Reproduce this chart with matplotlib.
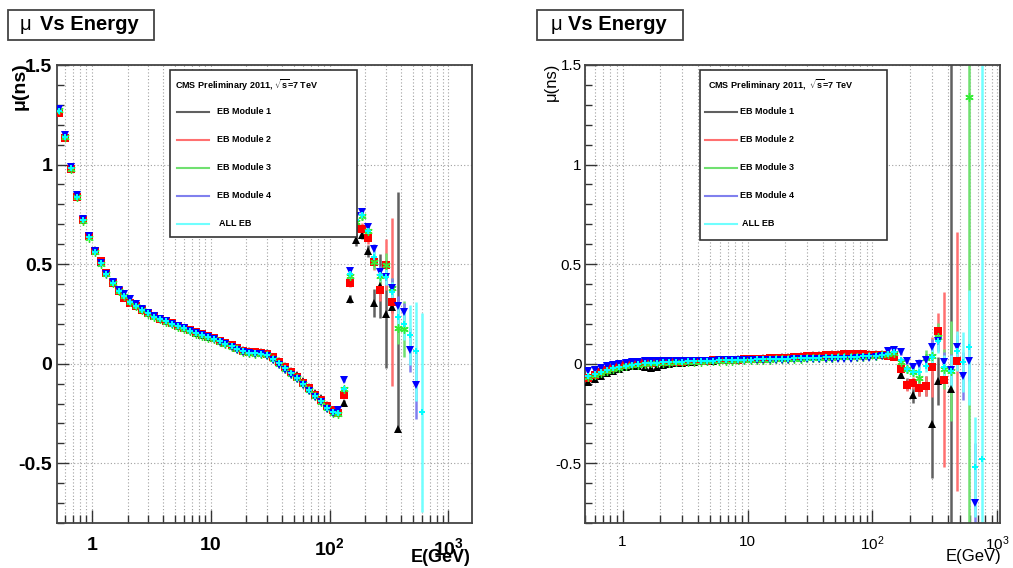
import numpy as np
import matplotlib.pyplot as plt
from matplotlib.patches import Rectangle
from matplotlib.lines import Line2D
from matplotlib.ticker import MultipleLocator, LogLocator, NullFormatter, FuncFormatter

plt.rcParams['font.family'] = ['Liberation Sans', 'DejaVu Sans']
plt.rcParams['mathtext.fontset'] = 'custom'
plt.rcParams['mathtext.rm'] = 'Liberation Sans'
plt.rcParams['mathtext.bf'] = 'Liberation Sans:bold'
plt.rcParams['mathtext.it'] = 'Liberation Sans:italic'
plt.rcParams['axes.unicode_minus'] = False

nan = float('nan')

# energy bin centres (GeV), 0.05 wide in log10
energy = [
    0.531, 0.596, 0.668, 0.750, 0.841, 0.944, 1.06, 1.19, 1.33, 1.50,
    1.68, 1.88, 2.11, 2.37, 2.66, 2.99, 3.35, 3.76, 4.22, 4.73,
    5.31, 5.96, 6.68, 7.50, 8.41, 9.44, 10.6, 11.9, 13.3, 15.0,
    16.8, 18.8, 21.1, 23.7, 26.6, 29.9, 33.5, 37.6, 42.2, 47.3,
    53.1, 59.6, 66.8, 75.0, 84.1, 94.4, 106, 119, 133, 150,
    168, 188, 211, 237, 266, 299, 335, 376, 422, 473,
    531, 596, 668, 750,
]

# bins from here on carry visible error bars
TAIL = 48

# ---- left plot: mean time (ns) per module ----
left_mod1 = [
    1.27, 1.14, 0.985, 0.84, 0.725, 0.64, 0.57, 0.51, 0.455, 0.405,
    0.365, 0.335, 0.31, 0.29, 0.27, 0.253, 0.238, 0.225, 0.213, 0.202,
    0.19, 0.18, 0.168, 0.156, 0.146, 0.136, 0.128, 0.115, 0.104, 0.093,
    0.079, 0.068, 0.062, 0.06, 0.058, 0.054, 0.036, 0.012, -0.012, -0.036,
    -0.058, -0.088, -0.115, -0.145, -0.172, -0.205, -0.232, -0.24,
    -0.195, 0.323, 0.62, 0.645, 0.565, 0.303, 0.39, 0.25, 0.287, -0.33,
]
left_mod1_err = [0.015, 0.02, 0.03, 0.02, 0.03, 0.07, 0.16, 0.27, 0.03, 1.19]
left_mod1_err_dn = [0.015, 0.02, 0.03, 0.02, 0.03, 0.07, 0.16, 0.27, 0.03, 0.0]

left_mod2 = [
    1.26, 1.135, 0.98, 0.835, 0.72, 0.64, 0.565, 0.515, 0.455, 0.405,
    0.365, 0.33, 0.305, 0.29, 0.27, 0.255, 0.24, 0.225, 0.213, 0.203,
    0.19, 0.18, 0.168, 0.157, 0.147, 0.137, 0.128, 0.115, 0.103, 0.092,
    0.078, 0.066, 0.06, 0.058, 0.055, 0.05, 0.032, 0.008, -0.018, -0.042,
    -0.065, -0.095, -0.122, -0.155, -0.18, -0.212, -0.235, -0.248,
    -0.155, 0.403, 0.68, 0.678, 0.633, 0.512, 0.37, 0.498, 0.31,
]
left_mod2_err = [0.012, 0.02, 0.025, 0.03, 0.03, 0.04, 0.055, 0.13, 0.42]

left_mod3 = [
    1.275, 1.14, 0.98, 0.835, 0.715, 0.63, 0.56, 0.5, 0.45, 0.405,
    0.365, 0.338, 0.31, 0.288, 0.268, 0.252, 0.236, 0.222, 0.21, 0.198,
    0.186, 0.175, 0.163, 0.151, 0.141, 0.131, 0.122, 0.109, 0.097, 0.086,
    0.072, 0.06, 0.054, 0.051, 0.049, 0.043, 0.024, 0.0, -0.026, -0.051,
    -0.074, -0.104, -0.132, -0.164, -0.19, -0.222, -0.247, -0.252,
    -0.125, 0.44, 0.71, 0.74, 0.667, 0.512, 0.44, 0.498, 0.378, 0.178, 0.173,
]
left_mod3_err = [0.01, 0.015, 0.02, 0.02, 0.025, 0.035, 0.04, 0.06, 0.05, 0.08, 0.14]

left_mod4 = [
    1.28, 1.15, 0.99, 0.845, 0.725, 0.64, 0.565, 0.505, 0.45, 0.41,
    0.37, 0.35, 0.325, 0.30, 0.275, 0.255, 0.24, 0.225, 0.212, 0.20,
    0.19, 0.178, 0.165, 0.152, 0.142, 0.133, 0.123, 0.11, 0.098, 0.085,
    0.07, 0.058, 0.052, 0.05, 0.048, 0.04, 0.02, -0.005, -0.03, -0.055,
    -0.078, -0.108, -0.135, -0.168, -0.192, -0.225, -0.248, -0.232,
    -0.08, 0.465, 0.74, 0.762, 0.687, 0.578, 0.462, 0.437, 0.38, 0.29,
    0.262, 0.07, -0.105,
]
left_mod4_err = [0.01, 0.015, 0.02, 0.02, 0.02, 0.025, 0.03, 0.04, 0.05, 0.05,
                 0.045, 0.11, 0.175]

left_all = [
    1.27, 1.14, 0.985, 0.838, 0.720, 0.635, 0.562, 0.505, 0.452, 0.407,
    0.367, 0.340, 0.312, 0.290, 0.270, 0.253, 0.237, 0.223, 0.212, 0.200,
    0.188, 0.177, 0.165, 0.153, 0.143, 0.133, 0.125, 0.112, 0.100, 0.088,
    0.074, 0.062, 0.056, 0.053, 0.051, 0.045, 0.026, 0.002, -0.024, -0.049,
    -0.072, -0.102, -0.130, -0.162, -0.187, -0.220, -0.245, -0.250,
    -0.125, 0.45, 0.72, 0.745, 0.667, 0.537, 0.445, 0.437, 0.36, 0.233,
    0.2, 0.145, 0.062, -0.243,
]
left_all_err = [0.01, 0.015, 0.02, 0.02, 0.02, 0.03, 0.03, 0.04, 0.05, 0.06,
                0.08, 0.15, 0.25, 0.5]

# ---- right plot: mean time (ns) per module ----
right_mod1 = [
    -0.09, -0.077, -0.06, -0.045, -0.035, -0.025, -0.018, -0.012, -0.01, -0.015,
    -0.022, -0.018, -0.008, -0.002, 0.002, 0.005, 0.008, 0.01, 0.012, 0.014,
    0.016, 0.018, 0.019, 0.02, 0.022, 0.023, 0.024, 0.025, 0.027, 0.028,
    0.03, 0.032, 0.034, 0.036, 0.038, 0.04, 0.042, 0.044, 0.046, 0.047,
    0.048, 0.049, 0.05, 0.05, 0.05, 0.05, 0.05, 0.05,
    0.055, 0.05, -0.055, -0.1, -0.157, -0.12, -0.11, -0.305, -0.085, nan, -0.127,
]
right_mod1_err = [0.01, 0.012, 0.015, 0.03, 0.04, 0.04, 0.05, 0.27, 0.12, nan, 2.0]

right_mod2 = [
    -0.07, -0.055, -0.042, -0.03, -0.02, -0.012, -0.005, 0.0, 0.003, 0.005,
    0.006, 0.007, 0.008, 0.009, 0.01, 0.011, 0.012, 0.013, 0.014, 0.015,
    0.017, 0.018, 0.019, 0.02, 0.021, 0.022, 0.023, 0.024, 0.025, 0.027,
    0.028, 0.03, 0.031, 0.033, 0.035, 0.037, 0.039, 0.041, 0.043, 0.045,
    0.046, 0.047, 0.048, 0.048, 0.047, 0.046, 0.045, 0.043,
    0.04, 0.035, -0.027, -0.107, -0.098, -0.122, -0.112, -0.015, 0.163, -0.08,
    nan, 0.013,
]
right_mod2_err = [0.01, 0.012, 0.02, 0.03, 0.03, 0.04, 0.05, 0.15, 0.09, 0.44,
                  nan, 0.65]

right_mod3 = [
    -0.065, -0.055, -0.045, -0.035, -0.027, -0.02, -0.014, -0.009, -0.005, -0.002,
    0.001, 0.003, 0.005, 0.006, 0.007, 0.008, 0.009, 0.01, 0.011, 0.012,
    0.013, 0.014, 0.015, 0.016, 0.017, 0.017, 0.018, 0.019, 0.02, 0.021,
    0.022, 0.023, 0.024, 0.025, 0.026, 0.027, 0.028, 0.029, 0.03, 0.031,
    0.032, 0.033, 0.034, 0.035, 0.036, 0.037, 0.04, 0.045,
    0.05, 0.055, 0.007, -0.027, -0.04, -0.072, 0.03, 0.04, 0.135, -0.027,
    -0.038, nan, nan, 1.34,
]
right_mod3_err = [0.01, 0.012, 0.015, 0.02, 0.02, 0.03, 0.04, 0.05, 0.07, 0.1,
                  0.25, nan, nan, 2.5]

right_mod4 = [
    -0.035, -0.03, -0.02, -0.012, -0.005, 0.0, 0.005, 0.008, 0.01, 0.012,
    0.013, 0.014, 0.015, 0.015, 0.015, 0.015, 0.015, 0.015, 0.016, 0.016,
    0.016, 0.017, 0.017, 0.018, 0.018, 0.018, 0.019, 0.019, 0.02, 0.02,
    0.02, 0.021, 0.021, 0.022, 0.022, 0.023, 0.023, 0.024, 0.024, 0.025,
    0.025, 0.026, 0.026, 0.027, 0.028, 0.03, 0.035, 0.04,
    0.065, 0.068, 0.06, 0.012, -0.015, -0.002, 0.018, 0.082, 0.112, 0.007,
    -0.03, 0.082, -0.06, 0.012, -0.70,
]
right_mod4_err = [0.01, 0.01, 0.015, 0.015, 0.02, 0.025, 0.03, 0.04, 0.05, 0.05,
                  0.08, 0.06, 0.12, 0.1, 0.3]

right_all = [
    -0.06, -0.05, -0.04, -0.032, -0.024, -0.017, -0.011, -0.006, -0.002, 0.001,
    0.004, 0.006, 0.008, 0.009, 0.01, 0.011, 0.012, 0.013, 0.014, 0.015,
    0.016, 0.017, 0.018, 0.019, 0.02, 0.02, 0.021, 0.022, 0.022, 0.023,
    0.024, 0.025, 0.026, 0.027, 0.028, 0.029, 0.03, 0.031, 0.032, 0.033,
    0.034, 0.035, 0.036, 0.036, 0.037, 0.038, 0.04, 0.043,
    0.05, 0.057, 0.018, -0.027, -0.043, -0.043, -0.01, 0.032, 0.115, -0.018,
    -0.038, 0.065, 0.007, 0.082, -0.52, -0.477,
]
right_all_err = [0.01, 0.012, 0.015, 0.02, 0.02, 0.03, 0.03, 0.05, 0.06, 0.06,
                 0.08, 0.1, 0.15, 0.29, 0.25, 2.0]

labels = ['EB Module 1', 'EB Module 2', 'EB Module 3', 'EB Module 4', 'ALL EB']
styles = [
    dict(color='#000000', ecolor='#606060', marker='^', ms=5.5, mew=0),
    dict(color='#ff0000', ecolor='#ff7070', marker='s', ms=5.5, mew=0),
    dict(color='#33ee33', ecolor='#70e070', marker=(6, 2, 0), ms=6.0, mew=1.0),
    dict(color='#0000ff', ecolor='#8080ee', marker='v', ms=6.0, mew=0),
    dict(color='#00ffff', ecolor='#70ffff', marker='P', ms=4.5, mew=0),
]

W, H = 1013, 568
fig = plt.figure(figsize=(W / 100, H / 100), dpi=100)


def fx(px):
    return px / W


def fy(py):
    return 1 - py / H


def draw_panel(ax, series, xlim, bold):
    for st, (mu, err, dn) in zip(styles, series):
        mu = np.array(mu, dtype=float)
        e = np.array(energy[:len(mu)])
        up = np.array(err, dtype=float)
        dn = up if dn is None else np.array(dn, dtype=float)
        ax.errorbar(e[TAIL:], mu[TAIL:], yerr=[dn, up], fmt='none',
                    ecolor=st['ecolor'], elinewidth=1.8, capsize=0, zorder=2)
        ax.plot(e, mu, ls='none', marker=st['marker'], ms=st['ms'],
                mew=st['mew'], color=st['color'], zorder=3)

    ax.set_xscale('log')
    ax.set_xlim(*xlim)
    ax.set_ylim(-0.8, 1.5)
    ax.set_axisbelow(True)

    if bold:
        xt = ['1', '10', r'$\mathbf{10^{2}}$', r'$\mathbf{10^{3}}$']
    else:
        xt = ['1', '10', r'$10^{2}$', r'$10^{3}$']
    ax.set_xticks([1, 10, 100, 1000], xt)
    ax.xaxis.set_minor_locator(LogLocator(base=10, subs=np.arange(2, 10), numticks=20))
    ax.xaxis.set_minor_formatter(NullFormatter())
    ax.yaxis.set_major_locator(MultipleLocator(0.5))
    ax.yaxis.set_minor_locator(MultipleLocator(0.1))
    ax.yaxis.set_major_formatter(FuncFormatter(lambda v, p: f'{v:g}'))

    size = 14 if bold else 11
    ax.tick_params(axis='both', which='both', direction='in', color='#333333',
                   top=False, right=False, labelsize=size)
    ax.tick_params(axis='x', which='major', length=9.5, width=1.0,
                   pad=10 if bold else 8.5)
    ax.tick_params(axis='x', which='minor', length=5.5, width=1.0)
    ax.tick_params(axis='y', which='major', length=8.5, width=1.0,
                   pad=3.5 if bold else 2.5)
    ax.tick_params(axis='y', which='minor', length=5, width=1.0)
    if bold:
        for t in ax.get_xticklabels() + ax.get_yticklabels():
            t.set_fontweight('bold')

    grid = dict(color='#a0a0a0', linestyle=(0, (1, 2)), linewidth=0.8)
    ax.grid(True, which='both', axis='x', **grid)
    ax.grid(True, which='major', axis='y', **grid)
    for sp in ax.spines.values():
        sp.set_color('#444444')
        sp.set_linewidth(1.3)


def title_box(x0, mu_x, text_x):
    fig.patches.append(Rectangle((fx(x0), fy(40)), 146 / W, 30 / H,
                                 transform=fig.transFigure, facecolor='white',
                                 edgecolor='#444444', lw=1.3, zorder=5))
    fig.text(fx(mu_x), fy(25), 'μ', fontsize=14.5, va='center', zorder=6)
    fig.text(fx(text_x), fy(25), 'Vs Energy', fontsize=14.5, weight='bold',
             va='center', zorder=6)


def legend_box(x0, x1, y1, title, title_x, line_x, text_x):
    fig.patches.append(Rectangle((fx(x0), fy(y1)), (x1 - x0) / W, (y1 - 70) / H,
                                 transform=fig.transFigure, facecolor='white',
                                 edgecolor='#333333', lw=1.2, zorder=10))
    fig.text(fx(title_x), fy(85), title, fontsize=6.5, weight='bold',
             va='center', zorder=11)
    for i, (lab, st) in enumerate(zip(labels, styles)):
        y = 112 + 28 * i
        fig.lines.append(Line2D([fx(line_x), fx(line_x + 32)], [fy(y), fy(y)],
                                transform=fig.transFigure, color=st['ecolor'],
                                lw=1.5, zorder=11))
        fig.text(fx(text_x + (2 if lab == 'ALL EB' else 0)), fy(y), lab,
                 fontsize=6.5, weight='bold', va='center', zorder=11)


axL = fig.add_axes([fx(57), fy(523), 415 / W, 458 / H])
axR = fig.add_axes([fx(585), fy(523), 415 / W, 458 / H])

draw_panel(axL, [(left_mod1, left_mod1_err, left_mod1_err_dn),
                 (left_mod2, left_mod2_err, None),
                 (left_mod3, left_mod3_err, None),
                 (left_mod4, left_mod4_err, None),
                 (left_all, left_all_err, None)],
           (0.51, 1580), bold=True)
draw_panel(axR, [(right_mod1, right_mod1_err, None),
                 (right_mod2, right_mod2_err, None),
                 (right_mod3, right_mod3_err, None),
                 (right_mod4, right_mod4_err, None),
                 (right_all, right_all_err, None)],
           (0.5, 1050), bold=False)

title_box(8, 20, 40)
title_box(537, 551, 568)

legend_box(170, 357, 237, r'CMS Preliminary 2011, $\sqrt{\mathbf{s}}$=7 TeV', 175, 177, 217)
legend_box(700, 887, 240, r'CMS Preliminary 2011,  $\sqrt{\mathbf{s}}$=7 TeV', 708, 705, 740)

fig.text(fx(20), fy(62), 'μ(ns)', rotation=90, ha='center', va='top',
         fontsize=14, weight='bold')
fig.text(fx(551), fy(63), 'μ(ns)', rotation=90, ha='center', va='top',
         fontsize=12)
fig.text(fx(471), fy(558), 'E(GeV)', ha='right', va='center', fontsize=13,
         weight='bold')
fig.text(fx(1001), fy(556), 'E(GeV)', ha='right', va='center', fontsize=12)

fig.savefig('out.png', dpi=100, facecolor='white')
